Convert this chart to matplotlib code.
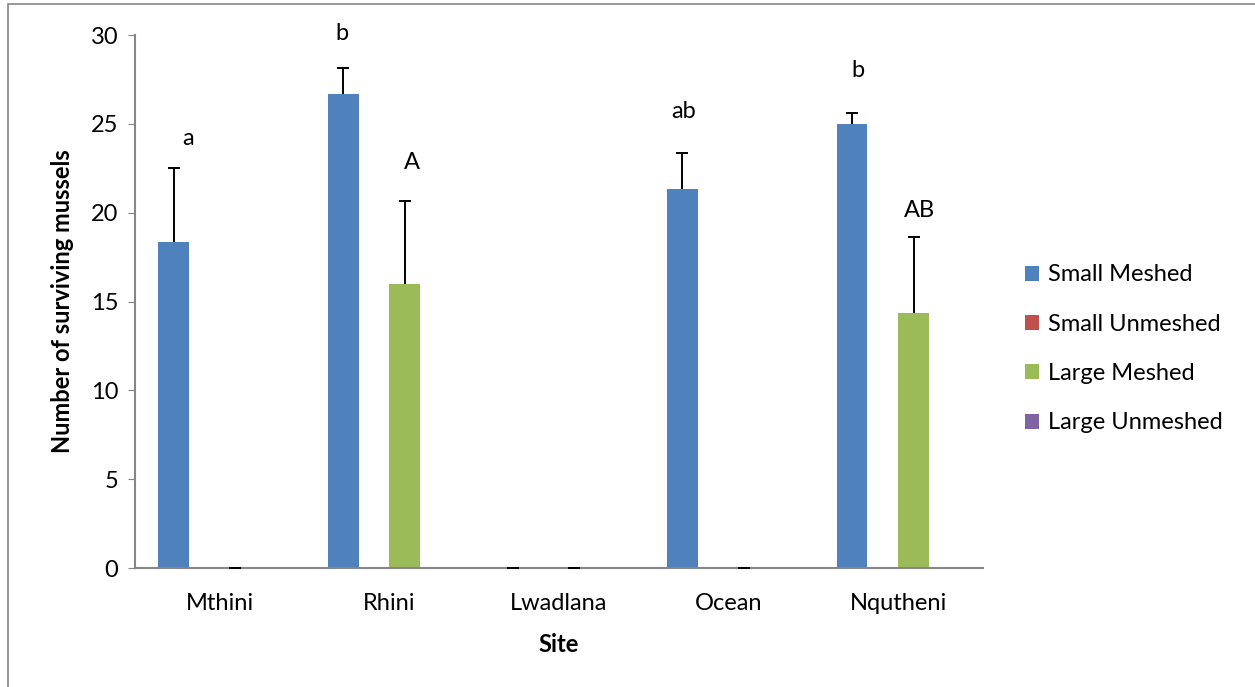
import matplotlib
matplotlib.use("Agg")
import matplotlib.pyplot as plt
from matplotlib.patches import Rectangle, Patch
import numpy as np

sites = ["Mthini", "Rhini", "Lwadlana", "Ocean", "Nqutheni"]
series_names = ["Small Meshed", "Small Unmeshed", "Large Meshed", "Large Unmeshed"]
colors = ["#4F81BD", "#C0504D", "#9BBB59", "#8064A2"]

small_meshed = [18.33, 26.67, 0, 21.33, 25.0]
small_unmeshed = [0, 0, 0, 0, 0]
large_meshed = [0, 16.0, 0, 0, 14.33]
large_unmeshed = [0, 0, 0, 0, 0]

small_meshed_err = [4.2, 1.45, 0, 2.05, 0.6]
large_meshed_err = [0, 4.65, 0, 0, 4.33]

# significance letters above bars
letters_site = [0, 1, 1, 3, 4, 4]
letters_text = ["a", "b", "A", "ab", "b", "AB"]
letters_y = [24.2, 30.1, 22.8, 25.7, 28.0, 20.1]
letters_dx = [-0.19, -0.28, 0.13, -0.265, -0.24, 0.125]

plt.rcParams["font.family"] = ["Lato", "DejaVu Sans"]
FS = 17

fig = plt.figure(figsize=(12.55, 6.87), dpi=100)
ax = fig.add_axes([0.1076, 0.1732, 0.6757, 0.7758])

x = np.arange(len(sites))
w = 1 / 5.5
values = [small_meshed, small_unmeshed, large_meshed, large_unmeshed]
errs = [small_meshed_err, None, large_meshed_err, None]

for i, (vals, err) in enumerate(zip(values, errs)):
    pos = x + (i - 1.5) * w
    ax.bar(pos, vals, width=w, color=colors[i], zorder=2)
    if err is not None:
        _, caps, _ = ax.errorbar(pos, vals, yerr=[np.zeros(len(err)), err], fmt="none",
                                 ecolor="black", elinewidth=1.4, capsize=4.5,
                                 capthick=1.4, zorder=3)
        caps[0].set_visible(False)

for s, t, yv, dx in zip(letters_site, letters_text, letters_y, letters_dx):
    ax.text(x[s] + dx, yv, t, ha="center", va="center", fontsize=FS)

ax.set_xlim(-0.5, len(sites) - 0.5)
ax.set_ylim(0, 30)
ax.set_yticks(range(0, 31, 5))
ax.set_xticks(x)
ax.set_xticklabels(sites, fontsize=FS)
ax.tick_params(axis="y", labelsize=FS, length=5, color="#868686", pad=7)
ax.tick_params(axis="x", length=0, pad=18)
for sp in ["top", "right"]:
    ax.spines[sp].set_visible(False)
for sp in ["left", "bottom"]:
    ax.spines[sp].set_color("#868686")
    ax.spines[sp].set_linewidth(1.5)

ax.set_ylabel("Number of surviving mussels", fontsize=FS, fontweight="bold", labelpad=12)
ax.set_xlabel("Site", fontsize=FS, fontweight="bold", labelpad=14)

handles = [Patch(facecolor=c) for c in colors]
fig.legend(handles, series_names, loc="center left", bbox_to_anchor=(0.8, 0.492),
           frameon=False, fontsize=FS, handlelength=0.6, handleheight=0.6,
           handletextpad=0.35, labelspacing=1.2)

fig.patches.append(Rectangle((8 / 1255, -0.01), 1.1, 1 - 4 / 687 + 0.01,
                             transform=fig.transFigure, fill=False,
                             edgecolor="#868686", linewidth=1.2))

fig.savefig("out.png", dpi=100)
